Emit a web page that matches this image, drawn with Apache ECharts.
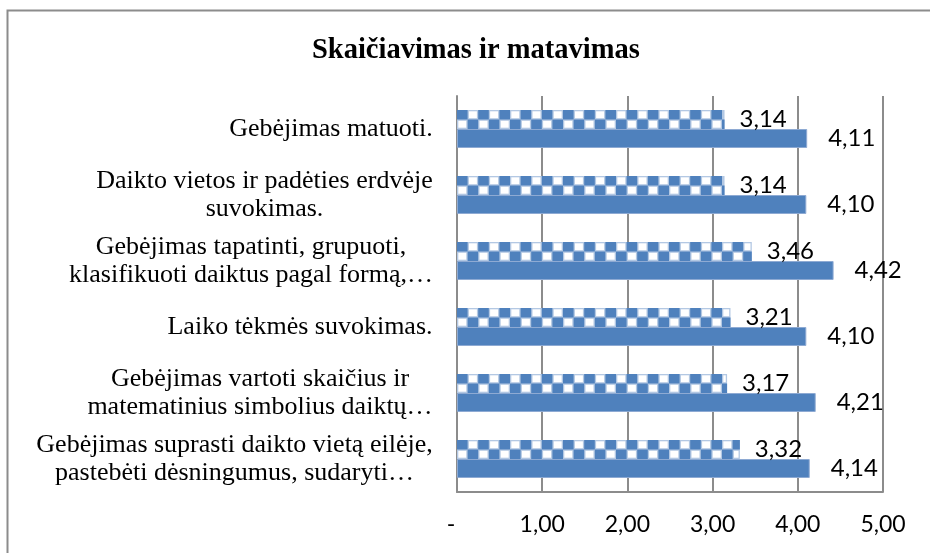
<!DOCTYPE html>
<html>
<head>
<meta charset="utf-8">
<script src="https://cdn.jsdelivr.net/npm/echarts@6/dist/echarts.min.js"></script>
<style>
  html, body { margin: 0; padding: 0; background: #ffffff; }
  #chart { width: 930px; height: 553px; }
</style>
</head>
<body>
<div id="chart"></div>
<script>
// Chart text and values
const chartTitle = 'Skaičiavimas ir matavimas';
const categories = [
  'Gebėjimas matuoti.',
  'Daikto vietos ir padėties erdvėje\nsuvokimas.',
  'Gebėjimas tapatinti, grupuoti,\nklasifikuoti daiktus pagal formą,…',
  'Laiko tėkmės suvokimas.',
  'Gebėjimas vartoti skaičius ir\nmatematinius simbolius daiktų…',
  'Gebėjimas suprasti daikto vietą eilėje,\npastebėti dėsningumus, sudaryti…'
];
const checkeredValues = [3.14, 3.14, 3.46, 3.21, 3.17, 3.32];
const solidValues = [4.11, 4.10, 4.42, 4.10, 4.21, 4.14];
const tickLabels = ['-', '1,00', '2,00', '3,00', '4,00', '5,00'];

// Styling
const BLUE = '#4F81BD';
const BLUE_LIGHT = '#b3c8e3';
const GRID_GRAY = '#8c8c8c';
const BAR_H = 19;
const CAT_FONT = 'Liberation Serif';
const CAT_SIZE = 26;
const VAL_FONT = 'Lato';
const VAL_SIZE = 24;

const fmtValue = v => v.toFixed(2).replace('.', ',');

// Each category label: lines centred inside a block whose width is the widest line
const measureCtx = document.createElement('canvas').getContext('2d');
measureCtx.font = CAT_SIZE + 'px "' + CAT_FONT + '"';
const catRich = {};
categories.forEach((c, i) => {
  const w = Math.max(...c.split('\n').map(l => measureCtx.measureText(l).width));
  catRich['c' + i] = {
    width: Math.ceil(w), align: 'center',
    fontFamily: CAT_FONT, fontSize: CAT_SIZE, lineHeight: 28, color: '#000'
  };
});

const checkeredData = checkeredValues.map((v, i) => [v, i]);

// Checkerboard fill for the first series, laid out on the bar's own rectangle
function renderChecker(params, api) {
  const v = api.value(0);
  const idx = api.value(1);
  const start = api.coord([0, idx]);
  const end = api.coord([v, idx]);
  const x0 = start[0];
  const len = end[0] - x0;
  const y0 = start[1] - BAR_H;
  const cellW = 10.6;
  const cellH = BAR_H / 2;
  const children = [{
    type: 'rect',
    shape: { x: x0, y: y0, width: len, height: BAR_H },
    style: { fill: BLUE_LIGHT }
  }];
  const inset = 1.3;
  for (let c = 0; c * cellW < len; c++) {
    const w = Math.min(cellW, len - c * cellW);
    for (let r = 0; r < 2; r++) {
      const isBlue = (c + r) % 2 === 0;
      if (isBlue) {
        children.push({
          type: 'rect',
          shape: { x: x0 + c * cellW, y: y0 + r * cellH, width: w, height: cellH },
          style: { fill: BLUE }
        });
      } else {
        const iw = w - 2 * inset;
        if (iw > 0) {
          children.push({
            type: 'rect',
            shape: { x: x0 + c * cellW + inset, y: y0 + r * cellH + inset, width: iw, height: cellH - 2 * inset },
            style: { fill: '#ffffff' }
          });
        }
      }
    }
  }
  return { type: 'group', children };
}

const chart = echarts.init(document.getElementById('chart'), null, { renderer: 'canvas' });
chart.setOption({
  backgroundColor: '#ffffff',
  animation: false,
  title: {
    text: chartTitle,
    left: 307,
    top: 31,
    textStyle: { fontFamily: CAT_FONT, fontSize: 28.5, fontWeight: 'bold', color: '#000' }
  },
  graphic: [{
    type: 'rect',
    left: 5, top: 8,
    shape: { width: 960, height: 600 },
    style: { fill: 'none', stroke: GRID_GRAY, lineWidth: 2 },
    silent: true, z: -1
  }],
  grid: { left: 457, right: 47, top: 96, bottom: 61, containLabel: false },
  xAxis: {
    type: 'value',
    min: 0, max: 5, interval: 1,
    axisLine: { show: true, lineStyle: { color: GRID_GRAY, width: 2 } },
    axisTick: { show: false },
    splitLine: { show: true, lineStyle: { color: GRID_GRAY, width: 2 } },
    axisLabel: {
      margin: 21,
      fontFamily: VAL_FONT, fontSize: 23, color: '#000',
      formatter: v => v === 0 ? '{dash|' + tickLabels[0] + '}' : tickLabels[Math.round(v)],
      rich: { dash: { fontFamily: VAL_FONT, fontSize: 23, color: '#000', padding: [0, 12, 0, 0] } }
    }
  },
  yAxis: {
    type: 'category',
    data: categories,
    inverse: true,
    axisLine: { show: true, lineStyle: { color: GRID_GRAY, width: 2 } },
    axisTick: { show: false },
    splitLine: { show: false },
    axisLabel: {
      margin: 24,
      align: 'right',
      formatter: (value, idx) => value.split('\n').map(l => '{c' + idx + '|' + l + '}').join('\n'),
      rich: catRich
    }
  },
  series: [
    {
      name: 'checkered',
      type: 'bar',
      data: checkeredValues,
      barWidth: BAR_H,
      barGap: '0%',
      itemStyle: { color: 'rgba(0,0,0,0)' },
      label: {
        show: true, position: 'right', distance: 15,
        fontFamily: VAL_FONT, fontSize: VAL_SIZE, color: '#000',
        formatter: p => fmtValue(p.value)
      },
      z: 3
    },
    {
      name: 'solid',
      type: 'bar',
      data: solidValues,
      barWidth: BAR_H,
      barGap: '0%',
      itemStyle: { color: BLUE, borderColor: '#8eaad3', borderWidth: 1 },
      label: {
        show: true, position: 'right', distance: 21,
        fontFamily: VAL_FONT, fontSize: VAL_SIZE, color: '#000',
        formatter: p => fmtValue(p.value)
      },
      z: 2
    },
    {
      name: 'checkered-fill',
      type: 'custom',
      data: checkeredData,
      encode: { x: 0, y: 1 },
      renderItem: renderChecker,
      z: 1
    }
  ]
});
</script>
</body>
</html>
